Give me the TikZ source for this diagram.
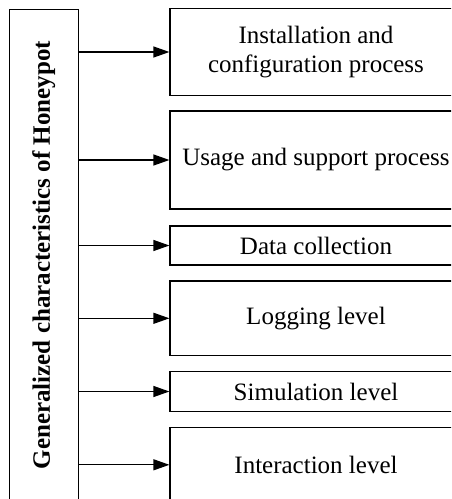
\documentclass[tikz,border=0pt]{standalone}
\usepackage{fontspec}
\setmainfont{Liberation Serif}
\usetikzlibrary{arrows.meta}
\begin{document}
\begin{tikzpicture}[x=1pt,y=1pt,
  rbox/.style={draw, line width=1.2pt, minimum width=292pt, inner sep=0pt, align=center,
    font=\fontsize{25}{29}\selectfont},
  lbox/.style={draw, line width=1.2pt, rotate=90, minimum width=492pt, minimum height=69pt,
    inner sep=0pt, font=\fontsize{25}{29}\selectfont\bfseries},
  arr/.style={line width=1.2pt, -{Triangle[length=16pt,width=11pt]}}]
\useasboundingbox (0,0) rectangle (451,-499);
\clip (0,0) rectangle (451,-499);
\node[lbox] (L) at (43.8,-255.2) {Generalized characteristics of Honeypot};
\node[rbox, minimum height=87.4pt] (R1) at (316,-52) {Installation and\\configuration process};
\node[rbox, minimum height=98pt] (R2) at (316,-160) {Usage and support process};
\node[rbox, minimum height=39pt] (R3) at (316,-245.5) {Data collection};
\node[rbox, minimum height=74.7pt] (R4) at (316,-318.3) {Logging level};
\node[rbox, minimum height=39.6pt] (R5) at (316,-391.5) {Simulation level};
\node[rbox, minimum height=74.3pt] (R6) at (316,-464.8) {Interaction level};
\foreach \r in {R1,R2,R3,R4,R5,R6}
  \draw[arr] (L.south |- \r.west) -- (\r.west);
\end{tikzpicture}
\end{document}
